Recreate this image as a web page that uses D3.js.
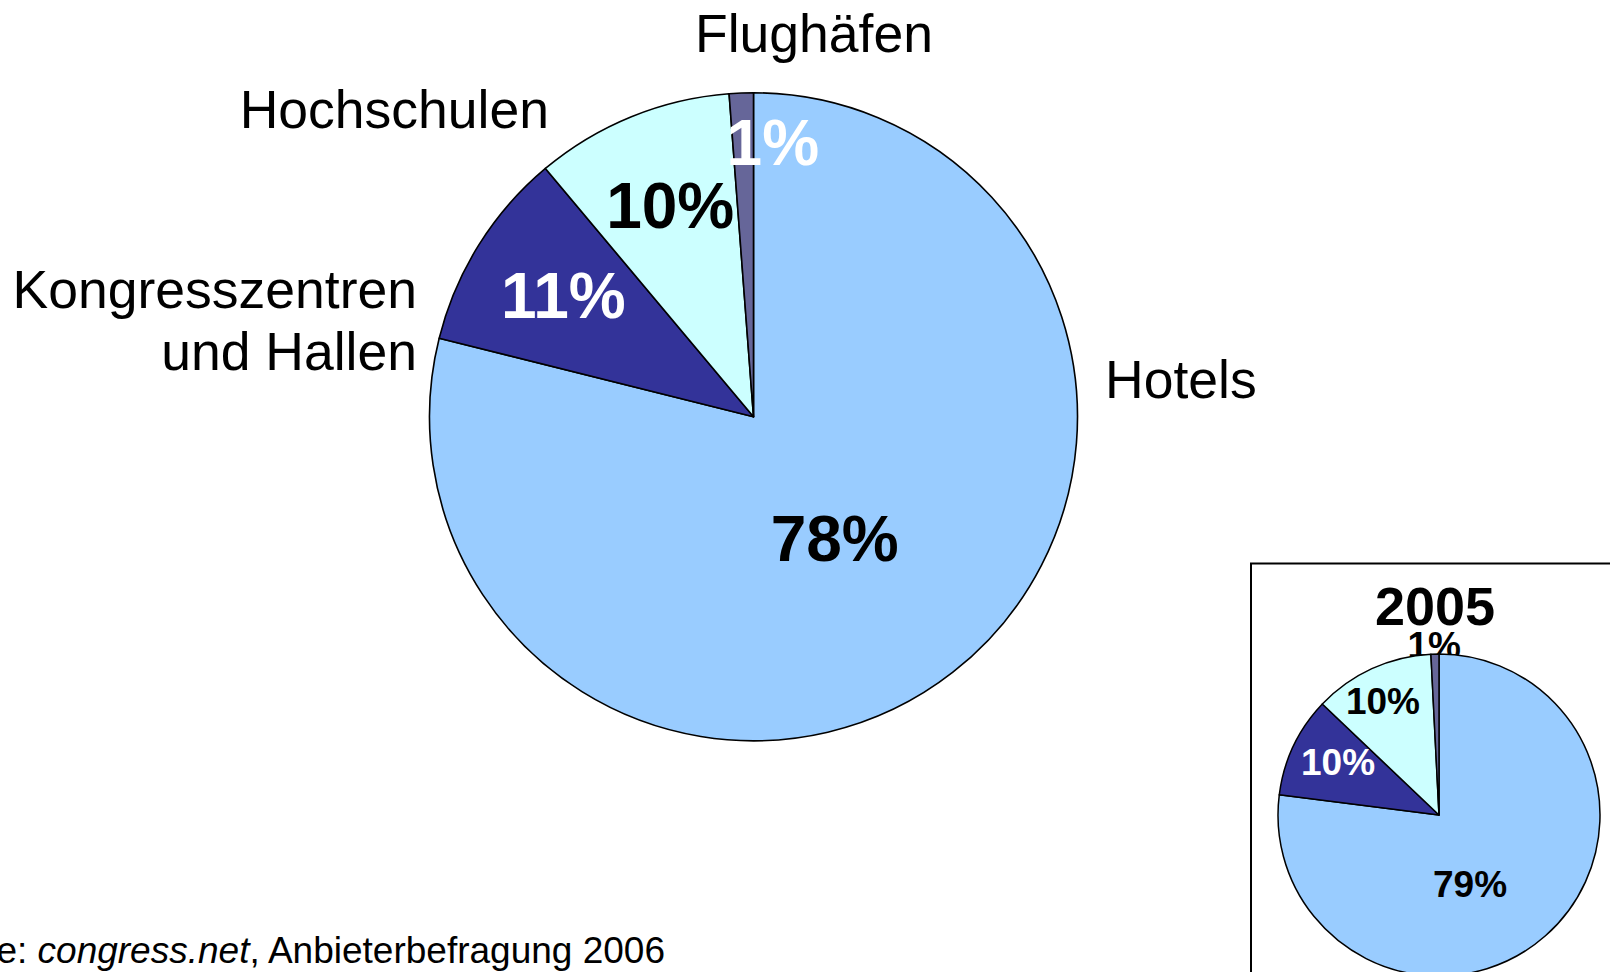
<!DOCTYPE html>
<html>
<head>
<meta charset="utf-8">
<script src="https://cdnjs.cloudflare.com/ajax/libs/d3/7.8.5/d3.min.js"></script>
<style>
  body { margin: 0; background: #fff; }
  svg { display: block; font-family: "Liberation Sans", Arial, sans-serif; }
</style>
</head>
<body>
<svg id="chart" width="1610" height="972"></svg>
<script>
// categories and shares (2006 main pie, 2005 inset) - slice sizes
var categories = ["Hotels", "Kongresszentren und Hallen", "Hochschulen", "Flughäfen"];
var colors = ["#99ccff", "#333399", "#ccffff", "#666699"];
var values2006 = [78.9, 10.0, 9.9, 1.2];
var labels2006 = ["78%", "11%", "10%", "1%"];
var values2005 = [77.0, 10.1, 12.1, 0.8];
var labels2005 = ["79%", "10%", "10%", "1%"];
var labelColors = ["#000", "#fff", "#000", "#fff"];
var labelColors2005 = ["#000", "#fff", "#000", "#000"];

var svg = d3.select("#chart");

var pie = d3.pie().sort(null).value(function(d){ return d; });

// polar helper: angle in radians clockwise from 12 o'clock
function polar(cx, cy, r, a){
    return [cx + r * Math.sin(a), cy - r * Math.cos(a)];
}

/* ---------- main pie (2006) ---------- */
var cx = 753.5, cy = 416.8, R = 324;
var arc = d3.arc().innerRadius(0).outerRadius(R);
var slices = pie(values2006);

var main = svg.append("g").attr("transform", "translate(" + cx + "," + cy + ")");
main.selectAll("path")
    .data(slices)
    .enter().append("path")
    .attr("d", arc)
    .attr("fill", function(d, i){ return colors[i]; })
    .attr("stroke", "#000")
    .attr("stroke-width", 1.6)
    .attr("stroke-linejoin", "round");

// percentage labels: radius factor and angle shift (deg) per slice
var lblR = [0.453, 0.696, 0.70, 0.847];
var lblShift = [4.4, 0.5, 0.6, 6.2];
slices.forEach(function(s, i){
    var mid = (s.startAngle + s.endAngle) / 2 + lblShift[i] * Math.PI / 180;
    var p = polar(cx, cy, R * lblR[i], mid);
    svg.append("text")
        .attr("x", p[0])
        .attr("y", p[1] + 22)
        .attr("text-anchor", "middle")
        .attr("font-size", 64)
        .attr("font-weight", "bold")
        .attr("fill", labelColors[i])
        .text(labels2006[i]);
});

// category names
var catFont = 53.5;
svg.append("text").attr("x", 814).attr("y", 52).attr("text-anchor", "middle")
    .attr("font-size", catFont).text(categories[3]);
svg.append("text").attr("x", 549).attr("y", 128).attr("text-anchor", "end")
    .attr("font-size", catFont).text(categories[2]);
svg.append("text").attr("x", 417).attr("y", 308).attr("text-anchor", "end")
    .attr("font-size", catFont).text("Kongresszentren");
svg.append("text").attr("x", 417).attr("y", 370).attr("text-anchor", "end")
    .attr("font-size", catFont).text("und Hallen");
svg.append("text").attr("x", 1105).attr("y", 398).attr("text-anchor", "start")
    .attr("font-size", catFont).text(categories[0]);

/* ---------- inset (2005) ---------- */
svg.append("rect")
    .attr("x", 1251).attr("y", 563.5)
    .attr("width", 420).attr("height", 460)
    .attr("fill", "#fff")
    .attr("stroke", "#000")
    .attr("stroke-width", 2);

svg.append("text").attr("x", 1435).attr("y", 625).attr("text-anchor", "middle")
    .attr("font-size", 54).attr("font-weight", "bold").text("2005");

var icx = 1439, icy = 815, iR = 161;
var iarc = d3.arc().innerRadius(0).outerRadius(iR);
var islices = pie(values2005);

// small-slice label sits above the pie, partly hidden behind it
var ilblR = [0.47, 0.708, 0.789, 1.056];
var ilblShift = [17.2, 2.3, -1.5, -0.2];
var ilbls = [];
islices.forEach(function(s, i){
    var mid = (s.startAngle + s.endAngle) / 2 + ilblShift[i] * Math.PI / 180;
    ilbls.push(polar(icx, icy, iR * ilblR[i], mid));
});

svg.append("text")
    .attr("x", ilbls[3][0]).attr("y", ilbls[3][1] + 13)
    .attr("text-anchor", "middle")
    .attr("font-size", 37).attr("font-weight", "bold")
    .attr("fill", labelColors2005[3])
    .text(labels2005[3]);

var inset = svg.append("g").attr("transform", "translate(" + icx + "," + icy + ")");
inset.selectAll("path")
    .data(islices)
    .enter().append("path")
    .attr("d", iarc)
    .attr("fill", function(d, i){ return colors[i]; })
    .attr("stroke", "#000")
    .attr("stroke-width", 1.5)
    .attr("stroke-linejoin", "round");

[0, 1, 2].forEach(function(i){
    svg.append("text")
        .attr("x", ilbls[i][0]).attr("y", ilbls[i][1] + 13)
        .attr("text-anchor", "middle")
        .attr("font-size", 37).attr("font-weight", "bold")
        .attr("fill", labelColors2005[i])
        .text(labels2005[i]);
});

/* ---------- source line ---------- */
var src = svg.append("text")
    .attr("x", 665).attr("y", 963)
    .attr("text-anchor", "end")
    .attr("font-size", 37);
src.append("tspan").text("Quelle: ");
src.append("tspan").attr("font-style", "italic").text("congress.net");
src.append("tspan").text(", Anbieterbefragung 2006");
</script>
</body>
</html>
